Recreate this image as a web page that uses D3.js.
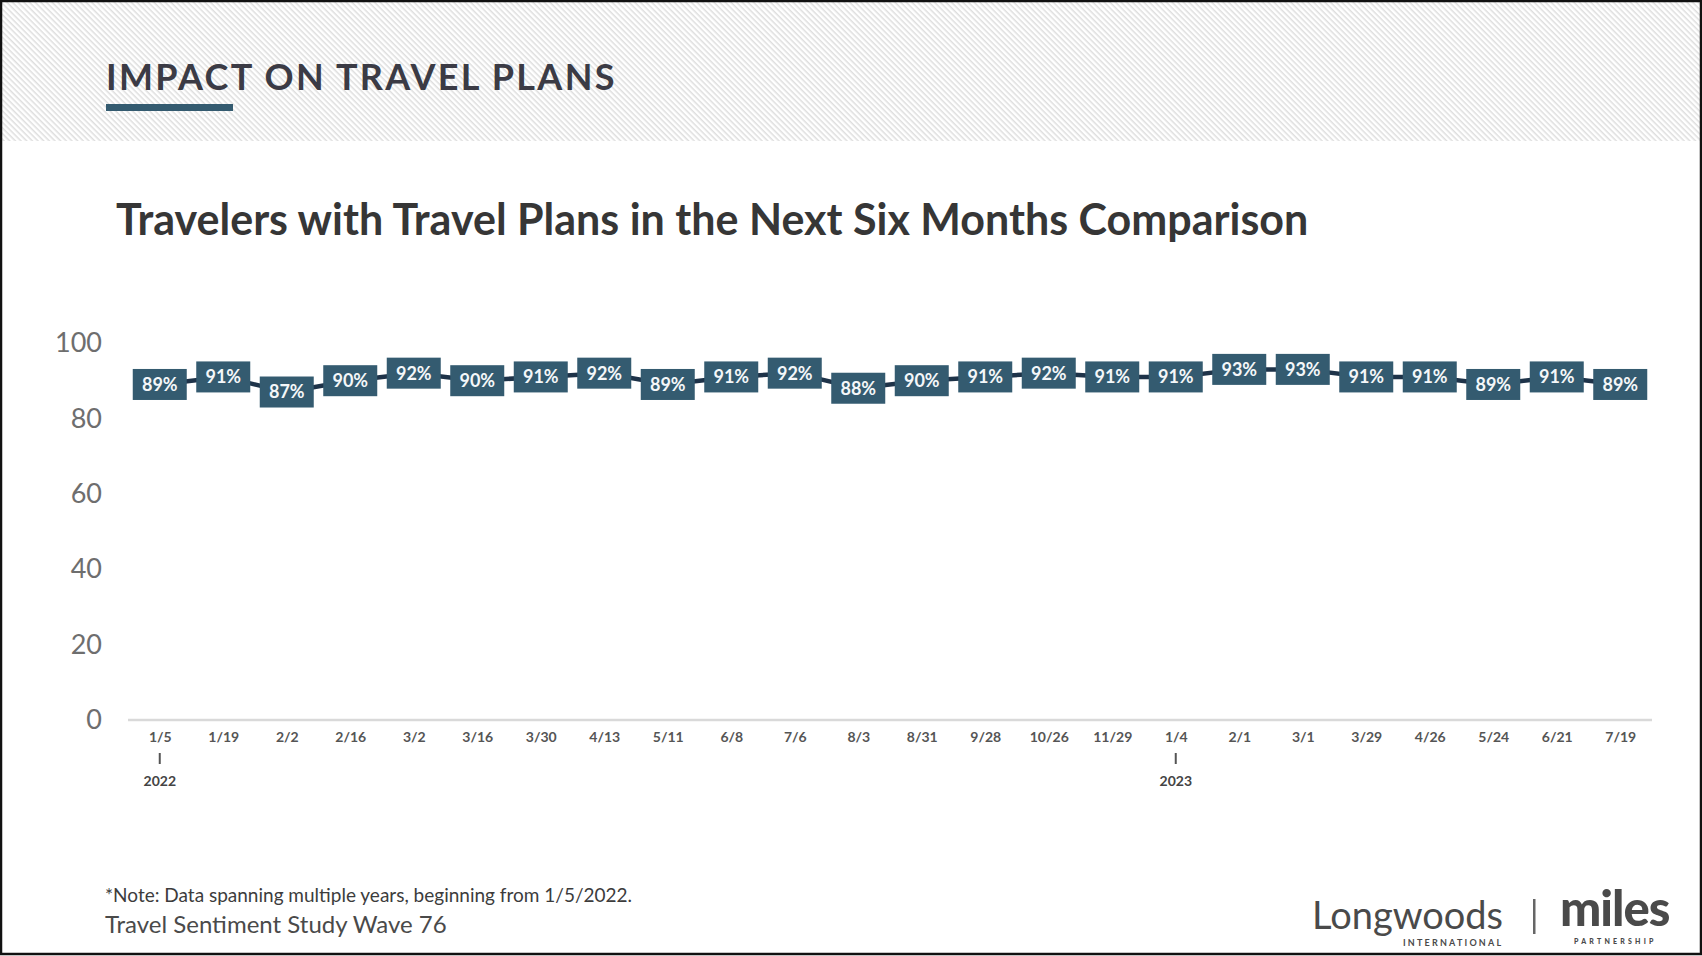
<!DOCTYPE html>
<html>
<head>
<meta charset="utf-8">
<script src="https://cdn.jsdelivr.net/npm/d3@7"></script>
<style>
  html, body { margin: 0; padding: 0; background: #fff; }
  svg { display: block; font-family: Lato, "Open Sans", sans-serif; }
</style>
</head>
<body>
<svg id="chart" width="1702" height="956"></svg>
<script>
// Survey waves and share of travelers with plans in the next six months (%)
const waveDates = ["1/5","1/19","2/2","2/16","3/2","3/16","3/30","4/13","5/11","6/8","7/6","8/3",
                   "8/31","9/28","10/26","11/29","1/4","2/1","3/1","3/29","4/26","5/24","6/21","7/19"];
const planShare = [89,91,87,90,92,90,91,92,89,91,92,88,90,91,92,91,91,93,93,91,91,89,91,89];
const yearMarks = [{ index: 0, label: "2022" }, { index: 16, label: "2023" }];
const yTicks = [0, 20, 40, 60, 80, 100];

const svg = d3.select("#chart");
const W = 1702, H = 956;

// Header band with diagonal hatching
const defs = svg.append("defs");
const pat = defs.append("pattern")
  .attr("id", "hatch").attr("patternUnits", "userSpaceOnUse")
  .attr("width", 4).attr("height", 4)
  .attr("patternTransform", "rotate(45)");
pat.append("rect").attr("width", 4).attr("height", 4).attr("fill", "#ffffff");
pat.append("rect").attr("width", 4).attr("height", 1.5).attr("fill", "#dedede");

svg.append("rect").attr("x", 0).attr("y", 0).attr("width", W).attr("height", H).attr("fill", "#fff");
svg.append("rect").attr("x", 0).attr("y", 0).attr("width", W).attr("height", 141).attr("fill", "url(#hatch)");

svg.append("text")
  .attr("x", 106).attr("y", 90)
  .attr("font-size", 36).attr("font-weight", 700)
  .attr("letter-spacing", 2.3)
  .attr("fill", "#3b3b45")
  .text("IMPACT ON TRAVEL PLANS");
svg.append("rect").attr("x", 106).attr("y", 104).attr("width", 127).attr("height", 7).attr("fill", "#345b70");

// Chart title
svg.append("text")
  .attr("x", 116).attr("y", 235)
  .attr("font-size", 43).attr("font-weight", 700)
  .attr("fill", "#363636")
  .text("Travelers with Travel Plans in the Next Six Months Comparison");

// Scales
const x = d3.scalePoint().domain(d3.range(waveDates.length)).range([128, 1652]).padding(0.5);
const y = d3.scaleLinear().domain([0, 100]).range([720, 343]);

// Y axis labels (no line, no ticks)
const yAxis = d3.axisLeft(y).tickValues(yTicks).tickSize(0).tickPadding(0);
const yg = svg.append("g").attr("transform", "translate(102,0)").call(yAxis);
yg.select(".domain").remove();
yg.selectAll("text")
  .attr("font-family", "Lato, sans-serif")
  .attr("font-size", 27).attr("fill", "#6e6e6e");

// X axis baseline and wave labels
const xAxis = d3.axisBottom(x).tickSize(0).tickPadding(0).tickFormat(i => waveDates[i]);
const xg = svg.append("g").attr("transform", "translate(0,720)").call(xAxis);
xg.select(".domain").attr("stroke", "#d9d9d9").attr("stroke-width", 2.5)
  .attr("d", "M128,0H1652");
xg.selectAll("text")
  .attr("font-family", "Lato, sans-serif")
  .attr("font-size", 14).attr("font-weight", 700)
  .attr("fill", "#555").attr("dy", 0).attr("y", 22);

// Year markers beneath the first wave of each year
const yr = svg.append("g").selectAll("g").data(yearMarks).join("g")
  .attr("transform", d => `translate(${x(d.index)},0)`);
yr.append("line").attr("y1", 753).attr("y2", 764).attr("stroke", "#555").attr("stroke-width", 2);
yr.append("text").attr("y", 786).attr("text-anchor", "middle")
  .attr("font-size", 14).attr("font-weight", 700).attr("fill", "#444")
  .text(d => d.label);

// Connecting line
const line = d3.line().x((d, i) => x(i)).y(d => y(d));
svg.append("path").datum(planShare)
  .attr("d", line).attr("fill", "none")
  .attr("stroke", "#1e3349").attr("stroke-width", 4.5);

// Value boxes
const bw = 54, bh = 31;
const pts = svg.append("g").selectAll("g").data(planShare).join("g")
  .attr("transform", (d, i) => `translate(${x(i)},${y(d)})`);
pts.append("rect")
  .attr("x", -bw / 2).attr("y", -bh / 2).attr("width", bw).attr("height", bh)
  .attr("fill", "#345b70");
pts.append("text")
  .attr("text-anchor", "middle").attr("dy", "0.36em")
  .attr("font-size", 18).attr("font-weight", 700).attr("fill", "#f4f7f9")
  .text(d => d + "%");

// Footer notes
svg.append("text").attr("x", 105).attr("y", 902)
  .attr("font-size", 19).attr("fill", "#3c3c3c")
  .text("*Note: Data spanning multiple years, beginning from 1/5/2022.");
svg.append("text").attr("x", 105).attr("y", 933)
  .attr("font-size", 24).attr("fill", "#4a4a4a")
  .text("Travel Sentiment Study Wave 76");

// Partner marks
const logo = svg.append("g").attr("fill", "#4a4a4a");
logo.append("text").attr("x", 1312).attr("y", 929).attr("font-size", 38).text("Longwoods");
logo.append("text").attr("x", 1403).attr("y", 946).attr("font-size", 9).attr("font-weight", 700)
  .attr("letter-spacing", 2.2).text("INTERNATIONAL");
logo.append("rect").attr("x", 1533).attr("y", 899).attr("width", 2.5).attr("height", 35).attr("fill", "#666");
logo.append("text").attr("x", 1560).attr("y", 926).attr("font-size", 49).attr("font-weight", 900)
  .attr("letter-spacing", -1).text("miles");
logo.append("text").attr("x", 1574).attr("y", 944).attr("font-size", 7).attr("font-weight", 900)
  .attr("letter-spacing", 3.2).text("PARTNERSHIP");

// Frame
svg.append("rect").attr("x", 1).attr("y", 1).attr("width", W - 2).attr("height", H - 3)
  .attr("fill", "none").attr("stroke", "#111").attr("stroke-width", 2.5);
</script>
</body>
</html>
